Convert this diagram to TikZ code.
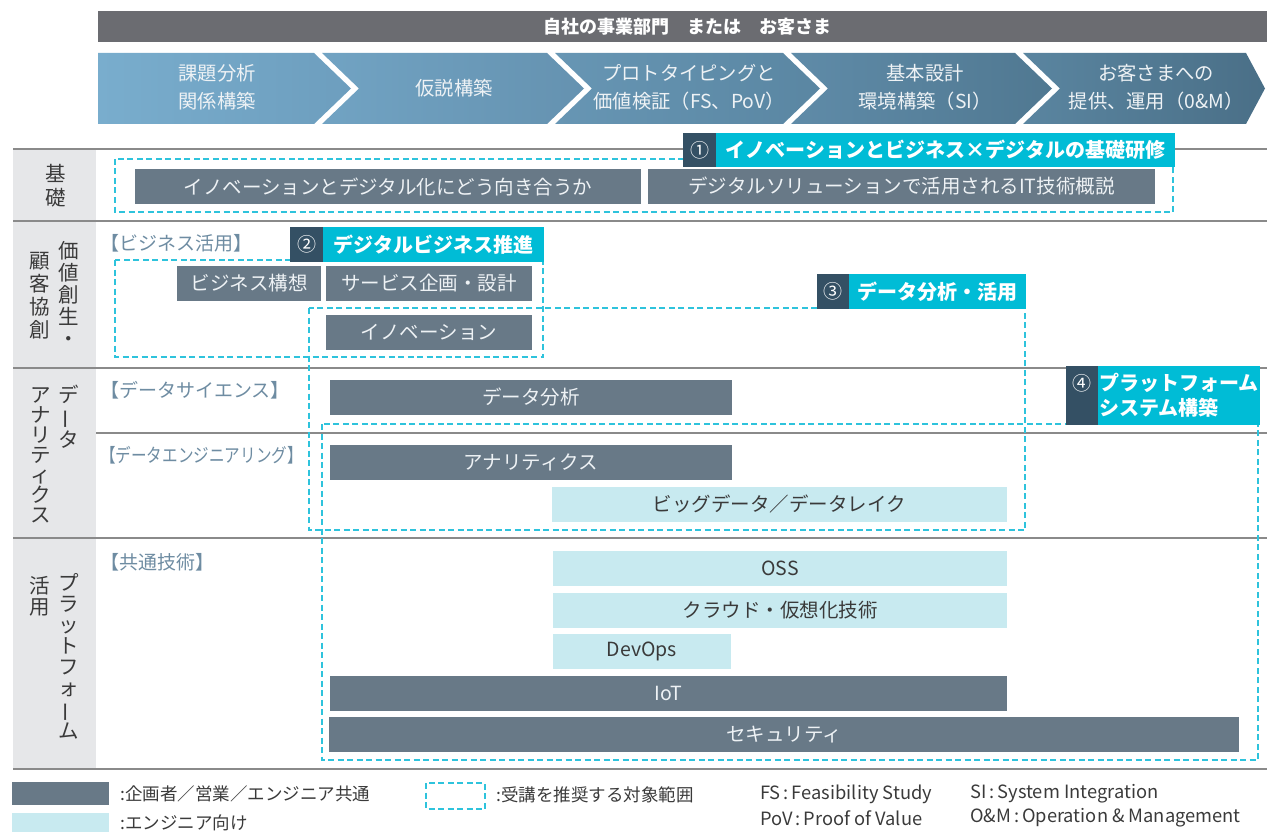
\documentclass[tikz,border=0pt]{standalone}
\usepackage{fontspec}
\setmainfont{Noto Sans CJK JP}
\definecolor{hdrc}{HTML}{6B6C71}
\definecolor{bard}{HTML}{687987}
\definecolor{barl}{HTML}{C8EAF0}
\definecolor{cyanb}{HTML}{00BCD6}
\definecolor{navyb}{HTML}{345064}
\definecolor{dashc}{HTML}{2EC3DC}
\definecolor{bandc}{HTML}{E6E7E9}
\definecolor{linec}{HTML}{8A8A8A}
\definecolor{brkc}{HTML}{6E8CA2}
\definecolor{txtc}{HTML}{3A3A3A}
\definecolor{bartxt}{HTML}{EEF2F5}
\definecolor{cha}{HTML}{79ADCD}
\definecolor{chb}{HTML}{6D9EBE}
\definecolor{chc}{HTML}{71A3C3}
\definecolor{chd}{HTML}{6592B0}
\definecolor{che}{HTML}{6796B4}
\definecolor{chf}{HTML}{5A86A2}
\definecolor{chg}{HTML}{5F8BA8}
\definecolor{chh}{HTML}{507891}
\definecolor{chi}{HTML}{5A85A0}
\definecolor{chj}{HTML}{4A6F87}
\newcommand\rbox[7]{\node[#2, minimum width={#5-#3}, minimum height={#6-#4}] (#1) at (#3,#4) {#7};}
\newcommand\vbarchar{\rotatebox[origin=c]{90}{ー}}
\begin{document}
\begin{tikzpicture}[x=1pt,y=-1pt,
  boxbase/.style={inner sep=0pt, outer sep=0pt, anchor=north west},
  hdrbar/.style={boxbase, fill=hdrc},
  darkbar/.style={boxbase, fill=bard, text=bartxt, font=\fontsize{19.5}{22}\selectfont},
  lightbar/.style={boxbase, fill=barl, text=txtc, font=\fontsize{19.5}{22}\selectfont},
  swatchd/.style={boxbase, fill=bard},
  swatchl/.style={boxbase, fill=barl},
  bnum/.style={boxbase, fill=navyb, text=white, font=\fontsize{19}{22}\selectfont},
  btxt/.style={boxbase, fill=cyanb, text=white, font=\fontsize{20}{25}\selectfont\bfseries},
  numtxt/.style={inner sep=0pt, text=white, font=\fontsize{19}{22}\selectfont},
  chevtxt/.style={inner sep=0pt, align=center, text=bartxt, font=\fontsize{19.3}{28}\selectfont},
  rowline/.style={draw=linec, line width=1.7pt},
  rec/.style={draw=dashc, line width=1.6pt, dash pattern=on 6pt off 3.5pt},
  brlab/.style={inner sep=0pt, anchor=west, text=brkc, font=\fontsize{19}{22}\selectfont},
  legtxt/.style={inner sep=0pt, anchor=west, text=txtc, font=\fontsize{17.5}{20}\selectfont},
  legtxtl/.style={inner sep=0pt, anchor=west, text=txtc, font=\fontsize{18.3}{20}\selectfont},
  vlab/.style={inner sep=0pt, align=center, text=txtc}
]
\useasboundingbox (0,0) rectangle (1267,832);

% header bar
\rbox{hdr}{hdrbar}{98}{11}{1267}{42}{}
\node[text=white, inner sep=0pt, font=\fontsize{18}{20}\selectfont\bfseries] (hdrt) at (687,27) {自社の事業部門　または　お客さま};

% chevrons
\begin{scope}
\clip (0,0) rectangle (1267,832);
\shade[left color=cha, right color=chb] (98,53) -- (314,53) -- (351,88.5) -- (314,124) -- (98,124) -- cycle;
\shade[left color=chc, right color=chd] (322,53) -- (547,53) -- (584,88.5) -- (547,124) -- (322,124) -- (359,88.5) -- cycle;
\shade[left color=che, right color=chf] (555,53) -- (783,53) -- (820,88.5) -- (783,124) -- (555,124) -- (592,88.5) -- cycle;
\shade[left color=chg, right color=chh] (791,53) -- (1015,53) -- (1052,88.5) -- (1015,124) -- (791,124) -- (828,88.5) -- cycle;
\shade[left color=chi, right color=chj] (1023,53) -- (1246,53) -- (1265,88.5) -- (1246,124) -- (1023,124) -- (1060,88.5) -- cycle;
\end{scope}
\node[chevtxt] (t1) at (217,87) {課題分析\\関係構築};
\node[chevtxt] (t2) at (454,88) {仮説構築};
\node[chevtxt] (t3) at (689,87) {プロトタイピングと\\価値検証（FS、PoV）};
\node[chevtxt] (t4) at (925,87) {基本設計\\環境構築（SI）};
\node[chevtxt] (t5) at (1156,87) {お客さまへの\\提供、運用（0\&M）};

% table frame
\fill[bandc] (13,149) rectangle (96,769);
\draw[rowline] (13,149) -- (1267,149);
\draw[rowline] (13,221) -- (1267,221);
\draw[rowline] (13,368) -- (1267,368);
\draw[rowline] (96,433) -- (1267,433);
\draw[rowline] (13,538) -- (1267,538);
\draw[rowline] (13,769) -- (1267,769);

% row labels
\node[vlab, font=\fontsize{20.5}{24}\selectfont] (l1) at (56,186) {基\\礎};
\node[vlab, font=\fontsize{20.5}{22}\selectfont] (l2a) at (69,294) {価\\値\\創\\生\\・};
\node[vlab, font=\fontsize{20.5}{23}\selectfont] (l2b) at (40,295.5) {顧\\客\\協\\創};
\node[vlab, font=\fontsize{20.5}{21.5}\selectfont] (l3a) at (69,416.5) {デ\\\vbarchar\\タ};
\node[vlab, font=\fontsize{20.5}{20}\selectfont] (l3b) at (41,455) {ア\\ナ\\リ\\テ\\ィ\\ク\\ス};
\node[vlab, font=\fontsize{20.5}{21}\selectfont] (l4a) at (69,656.5) {プ\\ラ\\ッ\\ト\\フ\\ォ\\\vbarchar\\ム};
\node[vlab, font=\fontsize{20.5}{21}\selectfont] (l4b) at (40,596.5) {活\\用};

% sub-category labels
\node[brlab] (s1) at (100,243) {【ビジネス活用】};
\node[brlab] (s2) at (100,390) {【データサイエンス】};
\node[brlab] (s3) at (100,455) {\scalebox{0.82}[1]{【データエンジニアリング】}};
\node[brlab] (s4) at (100,562) {【共通技術】};

% bars
\rbox{k1}{darkbar}{135}{169}{641}{204}{イノベーションとデジタル化にどう向き合うか}
\rbox{k2}{darkbar}{648}{169}{1155}{204}{デジタルソリューションで活用されるIT技術概説}
\rbox{v1}{darkbar}{177}{266}{321}{301}{ビジネス構想}
\rbox{v2}{darkbar}{326}{266}{532}{301}{サービス企画・設計}
\rbox{v3}{darkbar}{326}{315}{532}{350}{イノベーション}
\rbox{d1}{darkbar}{330}{380}{732}{415}{データ分析}
\rbox{d2}{darkbar}{330}{445}{732}{480}{アナリティクス}
\rbox{d3}{lightbar}{552}{487}{1007}{522}{ビッグデータ／データレイク}
\rbox{p1}{lightbar}{553}{551}{1007}{586}{OSS}
\rbox{p2}{lightbar}{553}{593}{1007}{628}{クラウド・仮想化技術}
\rbox{p3}{lightbar}{553}{634}{731}{669}{DevOps}
\rbox{p4}{darkbar}{330}{676}{1007}{711}{IoT}
\rbox{p5}{darkbar}{329}{717}{1239}{752}{セキュリティ}

% recommended-scope boxes
\draw[rec] (115,159) rectangle (1173,212);
\draw[rec] (115,260) rectangle (543,357);
\draw[rec] (309,308) rectangle (1025,530);
\draw[rec] (322,424) rectangle (1258,760);

% badges
\rbox{b1n}{bnum}{683}{133}{716}{167}{①}
\rbox{b1t}{btxt}{716}{133}{1175}{167}{イノベーションとビジネス×デジタルの基礎研修}
\rbox{b2n}{bnum}{290}{227}{323}{262}{②}
\rbox{b2t}{btxt}{323}{227}{544}{262}{デジタルビジネス推進}
\rbox{b3n}{bnum}{817}{274}{849}{309}{③}
\rbox{b3t}{btxt}{849}{274}{1026}{309}{データ分析・活用}
\rbox{b4n}{bnum}{1066}{366}{1098}{425}{}
\node[numtxt] (b4num) at (1082,383) {④};
\rbox{b4t}{btxt, align=left}{1098}{366}{1260}{425}{プラットフォーム\\システム構築}

% legend
\rbox{lg1}{swatchd}{12}{782}{109}{805}{}
\rbox{lg2}{swatchl}{12}{813}{109}{832}{}
\draw[rec] (426,783) rectangle (485,809);
\node[legtxt] (lt1) at (120,794) {:企画者／営業／エンジニア共通};
\node[legtxt] (lt2) at (120,823) {:エンジニア向け};
\node[legtxt] (lt3) at (496,795) {:受講を推奨する対象範囲};
\node[legtxtl] (lt4) at (760,794) {FS\,:\,Feasibility Study};
\node[legtxtl] (lt5) at (760,818) {PoV\,:\,Proof of Value};
\node[legtxtl] (lt6) at (970,794) {SI\,:\,System Integration};
\node[legtxtl] (lt7) at (970,818) {O\&M\,:\,Operation \& Management};
\end{tikzpicture}
\end{document}
